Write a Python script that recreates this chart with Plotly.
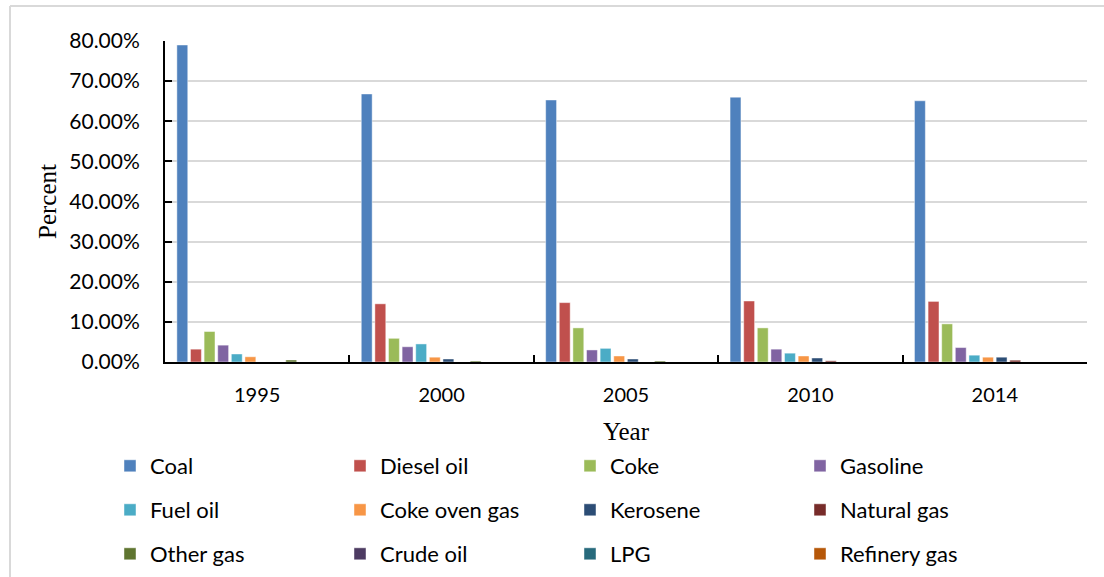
import plotly.graph_objects as go

years = ["1995", "2000", "2005", "2010", "2014"]
series_names = ["Coal", "Diesel oil", "Coke", "Gasoline", "Fuel oil", "Coke oven gas",
                "Kerosene", "Natural gas", "Other gas", "Crude oil", "LPG", "Refinery gas"]
coal = [0.790, 0.668, 0.653, 0.660, 0.651]
diesel_oil = [0.032, 0.145, 0.148, 0.152, 0.151]
coke = [0.076, 0.059, 0.085, 0.085, 0.095]
gasoline = [0.042, 0.038, 0.030, 0.032, 0.036]
fuel_oil = [0.020, 0.045, 0.034, 0.022, 0.017]
coke_oven_gas = [0.013, 0.012, 0.015, 0.015, 0.012]
kerosene = [0.0, 0.0075, 0.0075, 0.010, 0.012]
natural_gas = [0.0, 0.0, 0.0, 0.003, 0.0045]
other_gas = [0.005, 0.0025, 0.0025, 0.0, 0.0]
crude_oil = [0.0, 0.0, 0.0, 0.0, 0.0]
lpg = [0.0, 0.0, 0.0, 0.0, 0.0]
refinery_gas = [0.0, 0.0, 0.0, 0.0, 0.0]
values = [coal, diesel_oil, coke, gasoline, fuel_oil, coke_oven_gas,
          kerosene, natural_gas, other_gas, crude_oil, lpg, refinery_gas]
colors = ["#4F81BD", "#C0504D", "#9BBB59", "#8064A2", "#4BACC6", "#F79646",
          "#2C4D75", "#772C2A", "#5F7530", "#4D3B62", "#276A7C", "#B65708"]
y_ticks = [0.0, 0.1, 0.2, 0.3, 0.4, 0.5, 0.6, 0.7, 0.8]

W, H = 1104, 577
L, R, T, B = 165, 17, 41, 215
pw, ph = W - L - R, H - T - B

def px_x(p):
    return (p - L) / pw

def px_y(p):
    return (H - B - p) / ph

legend_ids = ["legend", "legend2", "legend3"]
fig = go.Figure()
for i, (name, vals, col) in enumerate(zip(series_names, values, colors)):
    fig.add_trace(go.Bar(
        x=years, y=vals, name=name,
        marker=dict(color=col, line=dict(color="rgba(255,255,255,0.45)", width=1)),
        legend=legend_ids[i // 4],
    ))

font_sans = "Lato"
legend_common = dict(orientation="h", xanchor="left", yanchor="middle",
                     xref="container", yref="container",
                     x=110 / W, entrywidth=185, entrywidthmode="pixels",
                     font=dict(family=font_sans, size=22, color="#000000"),
                     bgcolor="rgba(0,0,0,0)", itemclick=False)

fig.update_layout(
    width=W, height=H,
    margin=dict(l=L, r=R, t=T, b=B, pad=0, autoexpand=False),
    paper_bgcolor="white", plot_bgcolor="white",
    barmode="group", bargap=0.114, bargroupgap=0.2,
    legend=dict(**legend_common, y=1 - 466 / H),
    legend2=dict(**legend_common, y=1 - 510 / H),
    legend3=dict(**legend_common, y=1 - 554 / H),
    xaxis=dict(
        type="category", showline=True, linecolor="#000000", linewidth=2,
        ticks="inside", tickson="boundaries", ticklen=7, tickwidth=1.5, tickcolor="#000000",
        tickfont=dict(family=font_sans, size=20, color="#000000"),
        ticklabelstandoff=14, showgrid=False,
        title=dict(text="Year", font=dict(family="Liberation Serif", size=25, color="#000000"), standoff=17),
    ),
    yaxis=dict(
        range=[0, 0.8], tickvals=y_ticks, tickformat=".2%",
        showline=True, linecolor="#000000", linewidth=2,
        ticks="inside", ticklen=7, tickwidth=1.5, tickcolor="#000000",
        showgrid=True, gridcolor="#D9D9D9", gridwidth=2, zeroline=False,
        tickfont=dict(family=font_sans, size=21, color="#000000"),
        ticklabelstandoff=19,
        title=dict(text="Percent", font=dict(family="Liberation Serif", size=25, color="#000000"), standoff=6),
    ),
    shapes=[
        dict(type="line", xref="paper", yref="paper", x0=px_x(10), x1=px_x(1104), y0=px_y(6), y1=px_y(6),
             line=dict(color="#D9D9D9", width=2)),
        dict(type="line", xref="paper", yref="paper", x0=px_x(10), x1=px_x(10), y0=px_y(6), y1=px_y(577),
             line=dict(color="#D9D9D9", width=2)),
    ],
)

fig.write_html("out.html")
